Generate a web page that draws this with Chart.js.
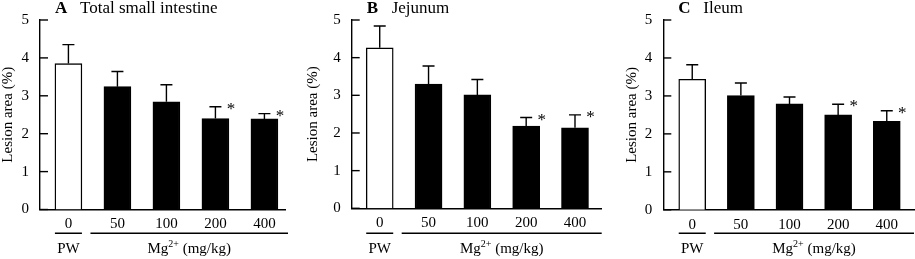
<!DOCTYPE html>
<html><head><meta charset="utf-8">
<script src="https://cdn.jsdelivr.net/npm/chart.js@4/dist/chart.umd.min.js"></script>
<style>
html,body{margin:0;padding:0;background:#fff;}
#wrap{position:relative;width:915px;height:259px;overflow:hidden;}
canvas{position:absolute;top:0;}
</style></head><body>
<div id="wrap">
<canvas id="cA" width="305" height="259" style="left:0"></canvas>
<canvas id="cB" width="305" height="259" style="left:305px"></canvas>
<canvas id="cC" width="305" height="259" style="left:610px"></canvas>
</div>
<script>
// ---- data ----
const doses = ['0', '50', '100', '200', '400'];
const yTickValues = [0, 1, 2, 3, 4, 5];
const groupPW = 'PW';
const groupMg = ['Mg', '2+', ' (mg/kg)'];
const yTitle = 'Lesion area (%)';
const panelLetters = ['A', 'B', 'C'];
const panelNames = ['Total small intestine', 'Jejunum', 'Ileum'];

const meanA = [3.85, 3.24, 2.84, 2.40, 2.39];
const semA  = [0.50, 0.40, 0.45, 0.31, 0.14];
const sigA  = [false, false, false, true, true];

const meanB = [4.26, 3.30, 3.01, 2.18, 2.14];
const semB  = [0.58, 0.48, 0.41, 0.23, 0.34];
const sigB  = [false, false, false, true, true];

const meanC = [3.44, 3.01, 2.79, 2.50, 2.33];
const semC  = [0.38, 0.33, 0.18, 0.28, 0.28];
const sigC  = [false, false, false, true, true];

// ---- layout (positions only) ----
const W = 305, H = 259;
const layouts = [
  {left: 40,   right: 285,   top: 18.3, bottom: 209.5, xmin: -0.58,  xmax: 4.42, titlePad: 0},
  {left: 46.7, right: 296.7, top: 15.7, bottom: 208.3, xmin: -0.574, xmax: 4.547, titlePad: 0},
  {left: 53.3, right: 304,   top: 18.3, bottom: 209.8, xmin: -0.595, xmax: 4.56, titlePad: 13.4}
];
const FONT = '"Liberation Serif", "Times New Roman", serif';
const BAR_W = 27;

function makePanel(id, idx, means, sems, sigs) {
  const L = layouts[idx];
  const deco = {
    id: 'deco' + idx,
    afterDatasetsDraw(chart) {
      const ctx = chart.ctx, xs = chart.scales.x, ys = chart.scales.y;
      ctx.save();
      ctx.strokeStyle = '#000';
      ctx.lineWidth = 1.4;
      means.forEach((m, i) => {
        const x = xs.getPixelForValue(i);
        const y0 = ys.getPixelForValue(m);
        const y1 = ys.getPixelForValue(m + sems[i]);
        ctx.beginPath();
        ctx.moveTo(x, y0); ctx.lineTo(x, y1);
        ctx.moveTo(x - 6, y1); ctx.lineTo(x + 6, y1);
        ctx.stroke();
        if (sigs[i]) {
          ctx.fillStyle = '#000';
          ctx.font = '17px ' + FONT;
          ctx.textAlign = 'center';
          ctx.textBaseline = 'alphabetic';
          ctx.fillText('*', x + 15.5, y1 + 7);
        }
      });
      const ca = chart.chartArea;
      yTickValues.forEach(v => {
        const y = ys.getPixelForValue(v);
        ctx.beginPath();
        ctx.moveTo(ca.left, y); ctx.lineTo(ca.left + 8, y);
        ctx.stroke();
      });
      ctx.restore();
    },
    afterDraw(chart) {
      const ctx = chart.ctx, xs = chart.scales.x, ca = chart.chartArea;
      ctx.save();
      ctx.fillStyle = '#000';
      ctx.strokeStyle = '#000';
      ctx.textBaseline = 'middle';
      ctx.textAlign = 'left';
      ctx.font = 'bold 17px ' + FONT;
      ctx.fillText(panelLetters[idx], ca.left + 15, 8.5);
      ctx.font = '17px ' + FONT;
      ctx.fillText(panelNames[idx], ca.left + 40, 8.5);
      const yLine = 233.3;
      ctx.lineWidth = 1.4;
      const x0 = xs.getPixelForValue(0);
      ctx.beginPath();
      ctx.moveTo(x0 - BAR_W / 2, yLine); ctx.lineTo(x0 + BAR_W / 2, yLine);
      const mStart = xs.getPixelForValue(0.45);
      const mEnd = ca.right + (idx === 0 ? 3 : 0);
      ctx.moveTo(mStart, yLine); ctx.lineTo(mEnd, yLine);
      ctx.stroke();
      const yLab = 249;
      ctx.font = '15px ' + FONT;
      ctx.textAlign = 'center';
      ctx.textBaseline = 'middle';
      ctx.fillText(groupPW, x0, yLab);
      ctx.textAlign = 'left';
      const f1 = '15px ' + FONT, f2 = '10px ' + FONT;
      ctx.font = f1; const w1 = ctx.measureText(groupMg[0]).width;
      ctx.font = f2; const w2 = ctx.measureText(groupMg[1]).width;
      ctx.font = f1; const w3 = ctx.measureText(groupMg[2]).width;
      let sx = (mStart + mEnd) / 2 - (w1 + w2 + w3) / 2;
      ctx.font = f1; ctx.fillText(groupMg[0], sx, yLab);
      ctx.font = f2; ctx.fillText(groupMg[1], sx + w1, yLab - 5);
      ctx.font = f1; ctx.fillText(groupMg[2], sx + w1 + w2, yLab);
      ctx.restore();
    }
  };
  return new Chart(document.getElementById(id), {
    type: 'bar',
    data: {
      datasets: [{
        data: means.map((m, i) => ({x: i, y: m})),
        backgroundColor: means.map((m, i) => i === 0 ? '#ffffff' : '#000000'),
        borderColor: '#000',
        borderWidth: 1.4,
        borderSkipped: 'bottom',
        barThickness: BAR_W
      }]
    },
    options: {
      responsive: false,
      animation: false,
      events: [],
      layout: {padding: {top: L.top, right: W - L.right, left: 0, bottom: 0}},
      plugins: {legend: {display: false}, tooltip: {enabled: false}},
      scales: {
        x: {
          type: 'linear',
          offset: false,
          min: L.xmin, max: L.xmax,
          z: 1,
          afterFit: s => { s.height = H - L.bottom; },
          afterBuildTicks: s => { s.ticks = doses.map((d, i) => ({value: i})); },
          grid: {display: false, drawTicks: false},
          border: {display: true, color: '#000', width: 1.4},
          ticks: {
            autoSkip: false, maxRotation: 0, padding: 6,
            color: '#000', font: {family: FONT, size: 15},
            callback: (v, i) => doses[i]
          }
        },
        y: {
          min: 0, max: 5,
          z: 1,
          afterFit: s => { s.width = L.left; },
          afterBuildTicks: s => { s.ticks = yTickValues.map(v => ({value: v})); },
          grid: {display: false, drawTicks: false},
          border: {display: true, color: '#000', width: 1.4},
          ticks: {padding: 11, color: '#000', font: {family: FONT, size: 15}},
          title: {
            display: true, text: yTitle, color: '#000',
            font: {family: FONT, size: 15, lineHeight: 1.1},
            padding: {top: L.titlePad, bottom: 0}
          }
        }
      }
    },
    plugins: [deco]
  });
}
makePanel('cA', 0, meanA, semA, sigA);
makePanel('cB', 1, meanB, semB, sigB);
makePanel('cC', 2, meanC, semC, sigC);
</script>
</body></html>
